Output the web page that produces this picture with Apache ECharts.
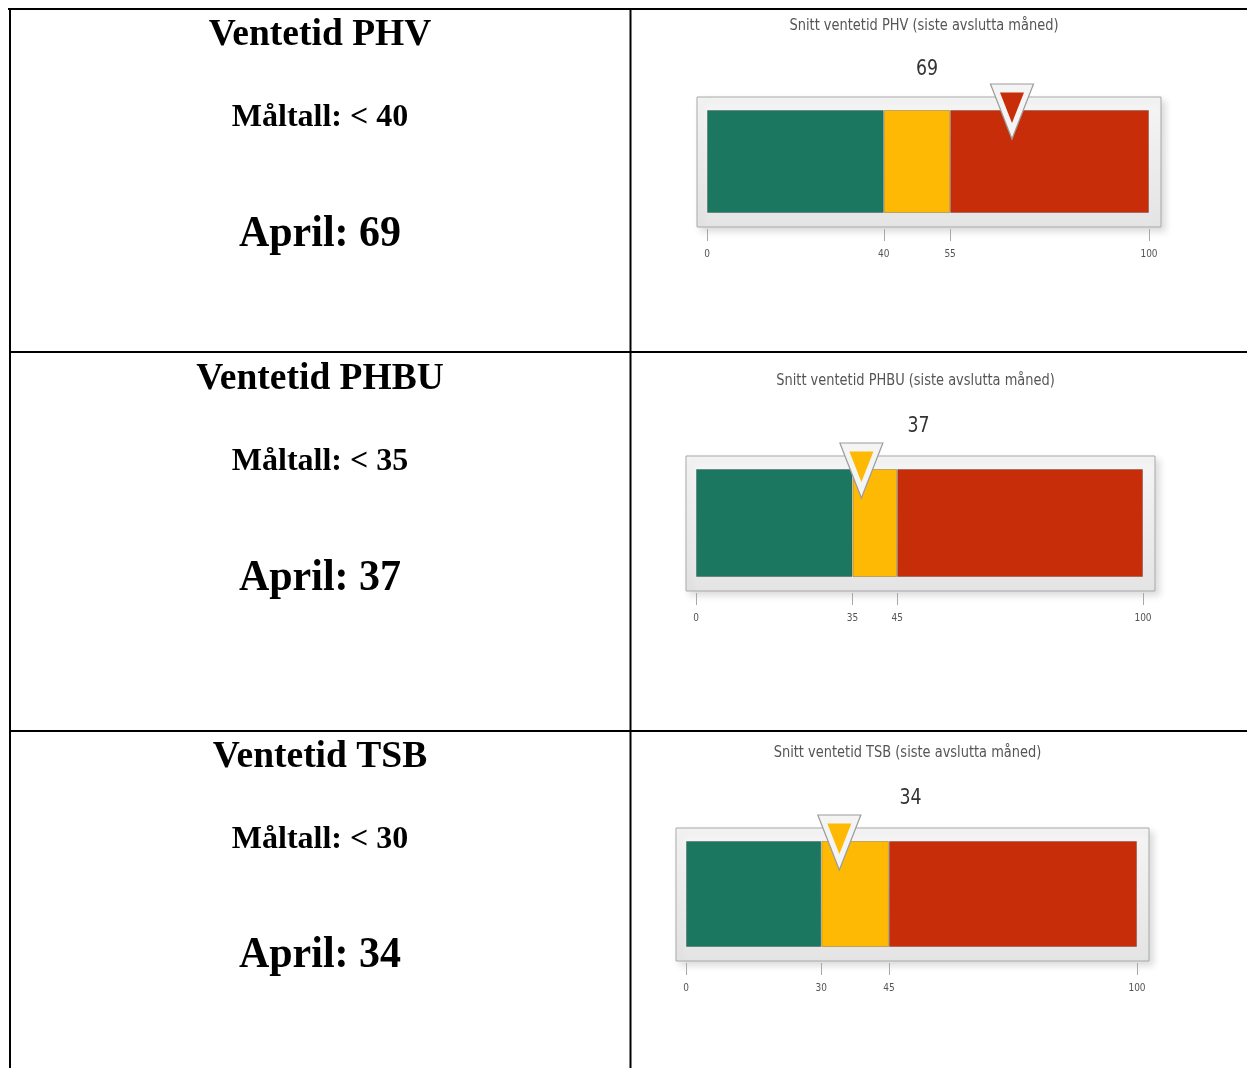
<!DOCTYPE html>
<html>
<head>
<meta charset="utf-8">
<script src="https://cdn.jsdelivr.net/npm/echarts@6/dist/echarts.min.js"></script>
<style>
  html, body { margin: 0; padding: 0; background: #fff; }
  #chart { width: 1247px; height: 1068px; }
</style>
</head>
<body>
<div id="chart"></div>
<script>
// ---------------- data ----------------
const rowHeadings = ['Ventetid PHV', 'Ventetid PHBU', 'Ventetid TSB'];
const targetValues = [40, 35, 30];          // Måltall: < x
const monthName = 'April';
const currentValues = [69, 37, 34];
const gaugeTitles = [
  'Snitt ventetid PHV (siste avslutta måned)',
  'Snitt ventetid PHBU (siste avslutta måned)',
  'Snitt ventetid TSB (siste avslutta måned)'
];
const greenLimits = [40, 35, 30];
const yellowLimits = [55, 45, 45];
const scaleMin = [0, 0, 0];
const scaleMax = [100, 100, 100];
const bandColors = ['#1b7760', '#fdb903', '#c82d0a'];

// ---------------- layout ----------------
const gaugeLayout = [
  { barL: 707, barR: 1149, barT: 110, barB: 213, titleY: 26, valueY: 70 },
  { barL: 696, barR: 1143, barT: 469, barB: 577, titleY: 381, valueY: 427 },
  { barL: 686, barR: 1137, barT: 841, barB: 947, titleY: 753, valueY: 799 }
];
const framePad = { l: 10, r: 12, t: 13, b: 14 };
const rowTextY = [[35, 118, 235], [379, 462, 579], [757, 840, 956]];
const leftColCenter = 320;
const condensed = "'DejaVu Sans Condensed', 'Liberation Sans Narrow', 'Roboto Condensed', 'Open Sans', sans-serif";
const serif = "'Liberation Serif', 'Times New Roman', serif";

// horizontal squeeze for the narrow gauge font
const measureCtx = document.createElement('canvas').getContext('2d');
measureCtx.font = '16px ' + condensed;
const titleScaleX = 269 / measureCtx.measureText(gaugeTitles[0]).width;

const chart = echarts.init(document.getElementById('chart'), null, { renderer: 'canvas' });

const grids = [], xAxes = [], yAxes = [], series = [], graphics = [];

gaugeLayout.forEach((g, i) => {
  grids.push({ left: g.barL, top: g.barT, width: g.barR - g.barL, height: g.barB - g.barT, containLabel: false });
  const tickVals = [scaleMin[i], greenLimits[i], yellowLimits[i], scaleMax[i]];
  const frameB = g.barB + framePad.b;
  xAxes.push({
    type: 'value', gridIndex: i, min: scaleMin[i], max: scaleMax[i], position: 'bottom',
    offset: framePad.b + 2,
    axisLine: { show: false },
    axisTick: { show: true, customValues: tickVals, length: 12, lineStyle: { color: '#a8a8a8', width: 1 } },
    axisLabel: { show: true, customValues: tickVals, fontSize: 10, color: '#555', margin: 20, fontFamily: condensed },
    splitLine: { show: false }
  });
  yAxes.push({ type: 'category', gridIndex: i, data: ['v'], show: false });

  const segs = [greenLimits[i] - scaleMin[i], yellowLimits[i] - greenLimits[i], scaleMax[i] - yellowLimits[i]];
  segs.forEach((s, k) => {
    series.push({
      type: 'bar', xAxisIndex: i, yAxisIndex: i, stack: 'g' + i, barWidth: '100%', silent: true,
      data: [s],
      itemStyle: { color: bandColors[k], borderColor: 'rgba(0,0,0,0.22)', borderWidth: 1 },
      z: 2
    });
  });

  const v = currentValues[i];
  const ptrColor = v < greenLimits[i] ? bandColors[0] : (v < yellowLimits[i] ? bandColors[1] : bandColors[2]);
  series.push({
    type: 'custom', xAxisIndex: i, yAxisIndex: i, silent: true, z: 5,
    data: [[v, 0]],
    encode: { x: 0, y: 1 },
    renderItem: function (params, api) {
      const p = api.coord([api.value(0), 0]);
      const bandH = api.size([0, 1])[1];
      const top = p[1] - bandH / 2;
      const x = p[0];
      return {
        type: 'group',
        children: [
          { type: 'polygon', shape: { points: [[x - 21.5, top - 26], [x + 21.5, top - 26], [x, top + 29]] },
            style: { fill: '#f4f4f4', stroke: '#9c9c9c', lineWidth: 1.2 } },
          { type: 'polygon', shape: { points: [[x - 12, top - 17.5], [x + 12, top - 17.5], [x, top + 13]] },
            style: { fill: ptrColor } }
        ]
      };
    }
  });

  // frame behind bar
  const fL = g.barL - framePad.l, fT = g.barT - framePad.t;
  const fW = (g.barR + framePad.r) - fL, fH = frameB - fT;
  graphics.push({
    type: 'rect', z: 0, silent: true,
    shape: { x: fL, y: fT, width: fW, height: fH },
    style: {
      fill: new echarts.graphic.LinearGradient(0, 0, 0, 1, [
        { offset: 0, color: '#f5f5f5' }, { offset: 1, color: '#e4e4e4' }
      ]),
      stroke: '#a9a9a9', lineWidth: 1,
      shadowBlur: 7, shadowOffsetX: 4, shadowOffsetY: 4, shadowColor: 'rgba(0,0,0,0.14)'
    }
  });
  const cx = fL + fW / 2;
  graphics.push({
    type: 'text', z: 3, silent: true, x: cx - 5, y: g.titleY, scaleX: titleScaleX,
    style: { text: gaugeTitles[i], fill: '#555', font: '16px ' + condensed, align: 'center', verticalAlign: 'middle' }
  });
  graphics.push({
    type: 'text', z: 3, silent: true, x: cx - 2, y: g.valueY, scaleX: 0.92,
    style: { text: String(currentValues[i]), fill: '#333', font: '500 21px ' + condensed, align: 'center', verticalAlign: 'middle' }
  });

  // left column
  const ry = rowTextY[i];
  graphics.push({
    type: 'text', z: 3, silent: true, x: leftColCenter, y: ry[0],
    style: { text: rowHeadings[i], fill: '#000', font: 'bold 37.5px ' + serif, align: 'center', verticalAlign: 'middle' }
  });
  graphics.push({
    type: 'text', z: 3, silent: true, x: leftColCenter, y: ry[1],
    style: { text: 'Måltall: < ' + targetValues[i], fill: '#000', font: 'bold 32px ' + serif, align: 'center', verticalAlign: 'middle' }
  });
  graphics.push({
    type: 'text', z: 3, silent: true, x: leftColCenter, y: ry[2], scaleY: 1.05,
    style: { text: monthName + ': ' + currentValues[i], fill: '#000', font: 'bold 42px ' + serif, align: 'center', verticalAlign: 'middle' }
  });
});

// table lines
const lineStyle = { stroke: '#000', lineWidth: 2 };
[[8, 9, 1247, 9], [10, 8, 10, 1068], [630.5, 8, 630.5, 1068], [9, 352, 1247, 352], [9, 731, 1247, 731]].forEach(l => {
  graphics.push({ type: 'line', z: 10, silent: true, shape: { x1: l[0], y1: l[1], x2: l[2], y2: l[3] }, style: lineStyle });
});

chart.setOption({
  backgroundColor: '#ffffff',
  animation: false,
  grid: grids,
  xAxis: xAxes,
  yAxis: yAxes,
  series: series,
  graphic: { elements: graphics }
});
</script>
</body>
</html>
